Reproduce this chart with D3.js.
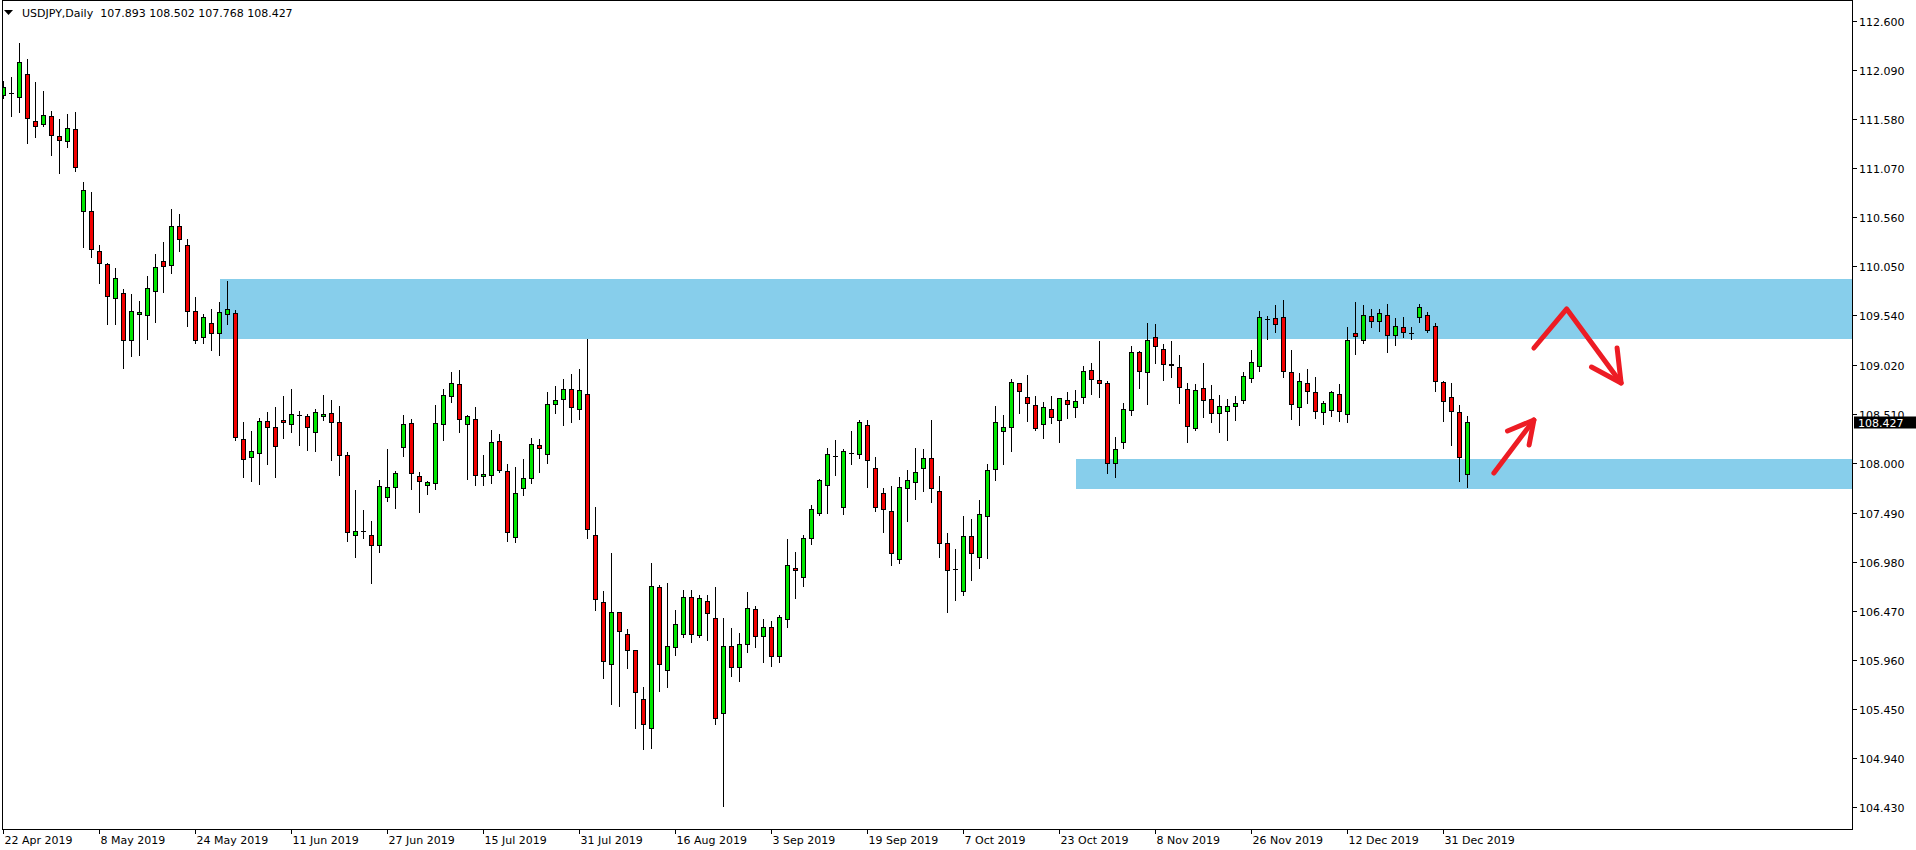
<!DOCTYPE html>
<html><head><meta charset="utf-8">
<script src="https://cdn.jsdelivr.net/npm/d3@7"></script>
<style>
html,body{margin:0;padding:0;background:#fff;overflow:hidden;}
svg{display:block;}
text{font-family:"DejaVu Sans",Verdana,sans-serif;font-size:11px;}
</style></head><body>
<svg id="c" width="1916" height="850"></svg>
<script>
const symbolTitle = "USDJPY,Daily";
const opens = [111.83,111.86,111.81,112.05,111.56,111.53,111.62,111.41,111.36,111.48,
110.63,110.63,110.21,110.08,109.72,109.77,109.28,109.56,109.54,109.79,
110.11,110.07,110.47,110.27,109.59,109.32,109.46,109.36,109.56,109.57,
108.26,108.07,108.11,108.44,108.38,108.45,108.41,108.50,108.49,108.33,
108.49,108.53,108.43,108.09,107.26,107.30,107.26,107.15,107.65,107.76,
108.17,108.42,107.87,107.78,107.80,108.41,108.70,108.83,108.41,108.46,
107.87,107.88,108.23,107.92,107.24,107.74,107.85,108.19,108.10,108.62,
108.67,108.77,108.57,108.72,107.26,106.56,105.91,106.45,106.23,106.06,
105.55,105.25,106.72,105.85,106.09,106.23,106.61,106.22,106.57,106.39,
105.40,106.10,105.88,106.12,106.49,106.20,106.30,106.00,106.38,106.91,
106.82,107.22,107.49,107.78,108.08,107.55,108.11,108.10,108.40,107.95,
107.69,107.51,107.01,107.75,107.81,107.95,108.06,107.71,107.17,106.90,
106.67,107.25,107.03,107.45,107.94,108.34,108.38,108.84,108.69,108.61,
108.41,108.57,108.45,108.66,108.59,108.69,108.97,108.87,108.84,108.01,
108.22,108.56,109.16,108.95,109.32,109.19,109.04,109.00,108.78,108.37,
108.79,108.67,108.53,108.55,108.60,108.66,108.89,109.01,109.50,109.51,
109.52,108.95,108.59,108.84,108.74,108.54,108.56,108.72,108.52,109.36,
109.28,109.53,109.48,109.54,109.34,109.42,109.36,109.52,109.54,109.43,
108.85,108.69,108.54,107.893];
const highs = [111.99,112.03,112.39,112.22,111.98,111.89,111.68,111.60,111.65,111.67,
110.94,110.84,110.28,110.10,110.04,109.83,109.77,109.70,109.96,110.19,
110.31,110.66,110.61,110.35,109.74,109.57,109.62,109.69,109.91,109.61,
108.44,108.35,108.48,108.55,108.60,108.71,108.79,108.56,108.53,108.58,
108.72,108.67,108.61,108.13,107.73,107.53,107.41,107.84,108.16,107.93,
108.52,108.47,107.92,107.83,108.62,108.79,108.96,108.98,108.52,108.60,
108.10,108.36,108.32,108.01,107.97,108.06,108.28,108.27,108.75,108.82,
108.89,108.94,108.99,109.31,107.56,106.68,107.08,106.46,106.29,106.07,
105.69,106.97,106.75,106.77,106.49,106.69,106.69,106.64,106.64,106.73,
106.40,106.30,106.25,106.67,106.53,106.39,106.37,106.43,107.22,107.09,
107.27,107.58,107.85,108.17,108.25,108.16,108.35,108.46,108.46,108.08,
107.76,107.78,107.87,107.94,108.17,108.16,108.46,107.88,107.29,107.12,
107.46,107.43,107.63,108.01,108.61,108.51,108.89,108.85,108.93,108.71,
108.65,108.71,108.69,108.75,108.77,109.03,109.06,109.28,108.87,108.29,
108.64,109.23,109.18,109.47,109.46,109.25,109.28,109.14,108.85,108.84,
109.06,108.83,108.72,108.68,108.71,108.96,109.19,109.60,109.55,109.66,
109.71,109.19,108.95,108.99,108.91,108.66,108.76,108.84,109.43,109.69,
109.66,109.62,109.62,109.67,109.52,109.53,109.43,109.67,109.59,109.47,
108.87,108.85,108.62,108.502];
const lows = [111.81,111.63,111.67,111.35,111.41,111.52,111.22,111.03,111.30,111.05,
110.26,110.16,109.89,109.46,109.46,109.00,109.13,109.14,109.31,109.48,
109.79,109.99,110.22,109.44,109.26,109.26,109.19,109.14,109.46,108.26,
107.87,107.83,107.80,108.01,107.87,108.28,108.34,108.20,108.15,108.14,
108.46,108.05,107.89,107.20,107.04,107.23,106.77,107.09,107.62,107.55,
108.09,107.75,107.51,107.69,107.75,108.26,108.65,108.34,107.85,107.79,
107.79,107.81,107.92,107.20,107.19,107.68,107.81,107.92,108.02,108.54,
108.41,108.44,108.47,107.24,106.49,105.78,105.51,105.49,105.88,105.26,
105.04,105.05,105.64,105.69,106.02,106.20,106.15,106.20,106.17,105.30,
104.45,105.80,105.75,106.05,106.10,105.95,105.90,105.95,106.31,106.61,
106.74,107.17,107.47,107.50,107.89,107.48,108.00,108.07,107.77,107.52,
107.30,106.95,106.98,107.41,107.64,107.72,107.61,107.04,106.47,106.59,
106.64,106.80,106.92,107.03,107.84,108.01,108.14,108.54,108.45,108.36,
108.28,108.43,108.23,108.48,108.49,108.64,108.73,108.70,107.91,107.87,
108.17,108.52,108.80,108.63,109.06,108.88,108.91,108.64,108.23,108.36,
108.49,108.44,108.34,108.26,108.46,108.64,108.86,108.97,109.31,109.38,
108.91,108.47,108.41,108.64,108.48,108.42,108.50,108.45,108.44,109.15,
109.26,109.43,109.39,109.17,109.24,109.33,109.31,109.48,109.38,108.76,
108.45,108.20,107.83,107.768];
const closes = [111.92,111.86,112.18,111.60,111.51,111.63,111.42,111.37,111.49,111.08,
110.85,110.23,110.09,109.74,109.93,109.29,109.59,109.58,109.83,110.04,
110.05,110.47,110.34,109.59,109.28,109.52,109.36,109.58,109.61,108.28,
108.05,108.13,108.44,108.38,108.18,108.43,108.51,108.50,108.38,108.54,
108.52,108.43,108.09,107.29,107.30,107.30,107.15,107.77,107.76,107.90,
108.41,107.90,107.82,107.81,108.42,108.71,108.84,108.46,108.49,107.88,
107.89,108.22,107.93,107.29,107.69,107.85,108.20,108.16,108.62,108.66,
108.77,108.59,108.76,107.32,106.59,105.94,106.45,106.26,106.06,105.62,
105.29,106.73,105.91,106.10,106.33,106.61,106.23,106.60,106.44,105.35,
106.10,105.88,106.12,106.50,106.20,106.30,106.00,106.40,106.94,106.89,
107.22,107.53,107.83,108.10,108.08,108.13,108.11,108.43,108.04,107.55,
107.53,107.07,107.76,107.83,107.91,108.06,107.74,107.17,106.89,106.90,
107.25,107.07,107.47,107.93,108.43,108.38,108.85,108.75,108.63,108.37,
108.59,108.48,108.68,108.62,108.65,108.96,108.88,108.84,108.01,108.15,
108.57,109.16,108.96,109.28,109.22,109.04,109.02,108.80,108.39,108.76,
108.66,108.53,108.60,108.60,108.63,108.91,109.06,109.52,109.50,109.45,
108.96,108.62,108.86,108.75,108.55,108.63,108.74,108.55,109.29,109.33,
109.55,109.48,109.57,109.34,109.43,109.37,109.36,109.63,109.39,108.86,
108.65,108.55,108.07,108.427];

const holidays = ["2019-12-25","2020-01-01"];
const dateTickLabels = ["22 Apr 2019","8 May 2019","24 May 2019","11 Jun 2019","27 Jun 2019","15 Jul 2019","31 Jul 2019","16 Aug 2019","3 Sep 2019","19 Sep 2019","7 Oct 2019","23 Oct 2019","8 Nov 2019","26 Nov 2019","12 Dec 2019","31 Dec 2019"];
const priceTickLabels = ["112.600","112.090","111.580","111.070","110.560","110.050","109.540","109.020","108.510","108.000","107.490","106.980","106.470","105.960","105.450","104.940","104.430"];

// zones: start bar, top price, bottom price
const zoneStart = [27, 134];
const zoneTop = [109.925, 108.05];
const zoneBottom = [109.30, 107.74];

// hand-drawn arrows in (bar, price) units
const arrowUpLine = [[186.3,107.906],[191.3,108.458]];
const arrowUpHead = [[188.0,108.343],[191.3,108.458],[190.7,108.198]];
const arrowZigLine = [[191.3,109.207],[195.4,109.613],[202.2,108.843]];
const arrowZigHead = [[198.5,109.009],[202.2,108.843],[201.7,109.207]];

const N = opens.length;
const dates = [];
{
  const d = new Date(Date.UTC(2019,3,22));
  while (dates.length < N) {
    const dow = d.getUTCDay();
    const iso = d.toISOString().slice(0,10);
    if (dow !== 0 && dow !== 6 && !holidays.includes(iso)) dates.push(new Date(d));
    d.setUTCDate(d.getUTCDate()+1);
  }
}
const fmt = d3.utcFormat("%-d %b %Y");

const plotLeft = 2, plotRight = 1852, plotTop = 0, plotBottom = 829;
const x = d3.scaleLinear().domain([0,1]).range([3.5,11.5]);
const y = d3.scaleLinear().domain([104.43,112.6]).range([807.1,21.9]);
const px = v => Math.round(v - 0.5) + 0.5;

const svg = d3.select("#c");
svg.append("rect").attr("width",1916).attr("height",850).attr("fill","#fff");
svg.append("defs").append("clipPath").attr("id","clip")
  .append("rect").attr("x",plotLeft+1).attr("y",plotTop+1)
  .attr("width",plotRight-plotLeft-1).attr("height",plotBottom-plotTop-1);

const plot = svg.append("g").attr("clip-path","url(#clip)");

// zones
plot.selectAll("rect.zone").data(zoneStart).join("rect")
  .attr("class","zone")
  .attr("x",(d)=>Math.round(x(d)))
  .attr("y",(d,i)=>Math.round(y(zoneTop[i])))
  .attr("width",(d)=>plotRight-Math.round(x(d)))
  .attr("height",(d,i)=>Math.round(y(zoneBottom[i]))-Math.round(y(zoneTop[i])))
  .attr("fill","#87ceeb");

// candles
const cg = plot.append("g").attr("shape-rendering","crispEdges");
const idx = d3.range(N);
const bull = "#00e600", bear = "#f20000";
cg.selectAll("line.wick").data(idx).join("line")
  .attr("x1",i=>x(i)).attr("x2",i=>x(i))
  .attr("y1",i=>px(y(highs[i]))).attr("y2",i=>px(y(lows[i]))+1)
  .attr("stroke","#000").attr("stroke-width",1);
idx.forEach(i=>{
  const o=opens[i], c=closes[i];
  const top = px(y(Math.max(o,c))), bot = px(y(Math.min(o,c)));
  if (bot - top < 1) {
    cg.append("line").attr("x1",x(i)-2.5).attr("x2",x(i)+2.5)
      .attr("y1",top).attr("y2",top).attr("stroke","#000").attr("stroke-width",1);
  } else {
    cg.append("rect").attr("x",x(i)-2).attr("y",top).attr("width",4).attr("height",bot-top)
      .attr("fill", c>o?bull:bear).attr("stroke","#000").attr("stroke-width",1);
  }
});

// arrows
const line = d3.line().x(d=>x(d[0])).y(d=>y(d[1]));
[arrowUpLine,arrowUpHead,arrowZigLine,arrowZigHead].forEach(pts=>{
  plot.append("path").attr("d",line(pts)).attr("fill","none")
    .attr("stroke","#ed1c24").attr("stroke-width",5)
    .attr("stroke-linecap","round").attr("stroke-linejoin","round");
});

// frame
const frame = svg.append("g").attr("stroke","#000").attr("stroke-width",1).attr("shape-rendering","crispEdges");
frame.append("line").attr("x1",plotLeft+0.5).attr("x2",plotLeft+0.5).attr("y1",plotTop).attr("y2",plotBottom+1);
frame.append("line").attr("x1",plotLeft).attr("x2",plotRight+1).attr("y1",plotTop+0.5).attr("y2",plotTop+0.5);
frame.append("line").attr("x1",plotRight+0.5).attr("x2",plotRight+0.5).attr("y1",plotTop).attr("y2",plotBottom+1);
frame.append("line").attr("x1",plotLeft).attr("x2",plotRight+1).attr("y1",plotBottom+0.5).attr("y2",plotBottom+0.5);

// price axis
const pa = svg.append("g");
priceTickLabels.forEach(lbl=>{
  const v = +lbl, yy = px(y(v));
  pa.append("line").attr("x1",plotRight+1).attr("x2",plotRight+5).attr("y1",yy).attr("y2",yy)
    .attr("stroke","#000").attr("shape-rendering","crispEdges");
  pa.append("text").attr("x",plotRight+7).attr("y",yy+4).attr("fill","#000").text(lbl);
});
// current price label
const last = closes[N-1];
const ly = px(y(last));
pa.append("rect").attr("x",plotRight+2).attr("y",ly-6).attr("width",1916-plotRight-2).attr("height",12).attr("fill","#000");
pa.append("text").attr("x",plotRight+6).attr("y",ly+4.5).attr("fill","#fff").text(last.toFixed(3));

// date axis
const da = svg.append("g");
dateTickLabels.forEach(lbl=>{
  const i = dates.findIndex(d=>fmt(d)===lbl);
  if (i<0) return;
  const xx = x(i);
  da.append("line").attr("x1",xx).attr("x2",xx).attr("y1",plotBottom+1).attr("y2",plotBottom+5)
    .attr("stroke","#000").attr("shape-rendering","crispEdges");
  da.append("text").attr("x",xx+1).attr("y",plotBottom+15).attr("fill","#000").text(lbl);
});

// title
svg.append("path").attr("d","M4,10 L13,10 L8.5,15 Z").attr("fill","#000");
svg.append("text").attr("x",22).attr("y",17).attr("fill","#000").attr("xml:space","preserve")
  .text(symbolTitle + "  " + [opens[N-1],highs[N-1],lows[N-1],closes[N-1]].map(v=>v.toFixed(3)).join(" "));
</script>
</body></html>
